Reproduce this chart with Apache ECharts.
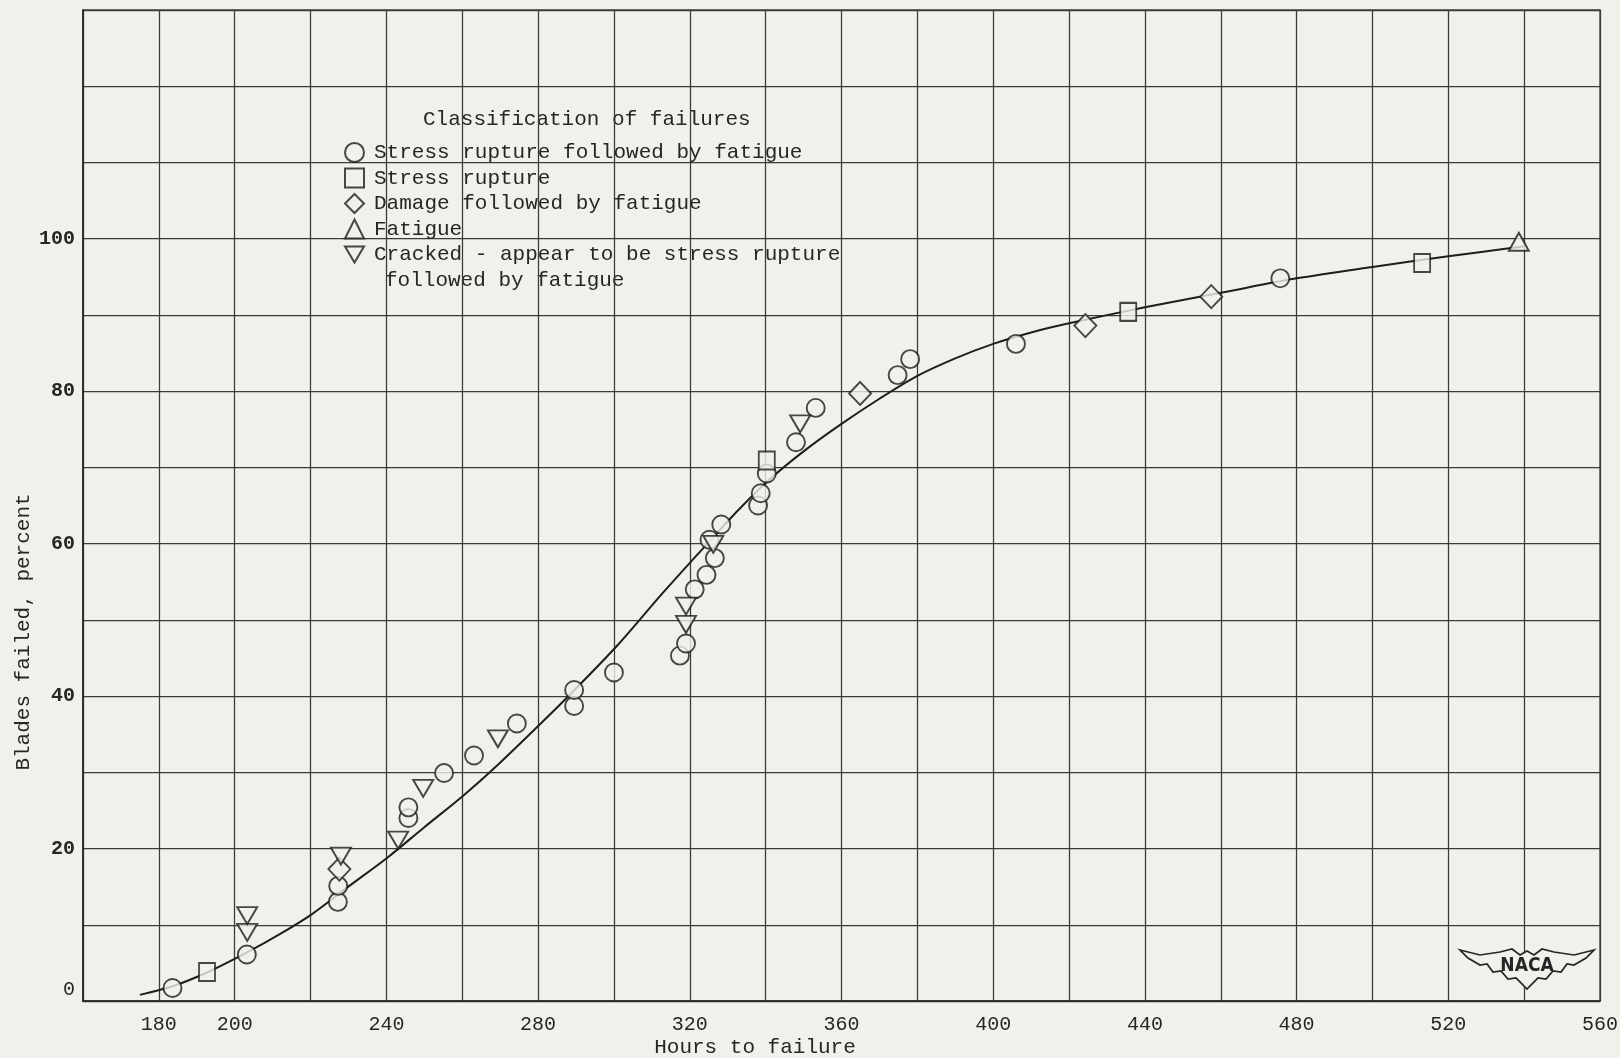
<!DOCTYPE html>
<html><head><meta charset="utf-8">
<script src="https://cdn.jsdelivr.net/npm/echarts@6/dist/echarts.min.js"></script>
<style>html,body{margin:0;padding:0;background:#f1f0eb;}#c{width:1620px;height:1058px;}</style>
</head><body><div id="c"></div>
<script>
// ---- data ----
const xTickLabels = [180, 200, 240, 280, 320, 360, 400, 440, 480, 520, 560];
const yTickLabels = [0, 20, 40, 60, 80, 100];
const legendTitle = 'Classification of failures';
const seriesNames = [
  'Stress rupture followed by fatigue',
  'Stress rupture',
  'Damage followed by fatigue',
  'Fatigue',
  'Cracked - appear to be stress rupture followed by fatigue'
];
// [hours to failure, blades failed percent]
const stressRuptureFatigue = [
  [183.6,1.7],[203.2,6.1],[227.2,13.0],[227.3,15.1],[245.8,24.0],[245.8,25.4],
  [255.2,29.9],[263.1,32.2],[274.4,36.4],[289.5,38.7],[289.5,40.8],[300.0,43.1],
  [317.4,45.3],[319.0,46.9],[321.3,54.0],[324.4,55.9],[326.6,58.1],[325.2,60.5],
  [328.3,62.5],[338.0,65.0],[338.7,66.6],[340.3,69.2],[348.0,73.3],[353.2,77.8],
  [374.8,82.1],[378.1,84.2],[406.0,86.2],[475.7,94.8]
];
const stressRupture = [[192.7,3.8],[340.3,70.9],[435.6,90.4],[513.1,96.8]];
const damageFatigue = [[227.6,17.3],[364.9,79.7],[424.3,88.6],[457.5,92.4]];
const fatigue = [[538.6,99.6]];
const cracked = [
  [203.3,9.0],[203.3,11.2],[228.0,19.0],[243.1,21.1],[249.7,27.9],[269.4,34.4],
  [319.0,49.4],[319.0,51.8],[326.2,59.9],[349.1,75.7]
];
const fairedCurve = [
  [175,0.8],[184,2.0],[193,3.8],[203,6.3],[212,8.8],[220.4,11.4],[229.7,14.9],
  [240.5,18.9],[250,22.8],[260.4,27.0],[269.2,30.9],[280.9,36.5],[290,41.0],
  [301,46.7],[313,53.6],[325,60.2],[333,64.5],[341,68.4],[350,72.1],[360,75.7],
  [370,79.0],[380,82.0],[390,84.3],[400,86.2],[410,87.7],[420,88.9],[440,91.0],
  [460,92.9],[480,94.8],[500,96.3],[520,97.7],[540,99.0]
];

// ---- styling ----
const BG = '#f1f0eb';
const INK = '#262626';
const GRIDC = '#3a3a3a';
const FONT = '"Liberation Mono", "DejaVu Sans Mono", monospace';
const markerStyle = { color: BG, borderColor: '#1c1c1c', borderWidth: 1.9 };

const chart = echarts.init(document.getElementById('c'), null, { renderer: 'canvas' });

function scatter(name, data, symbol, size) {
  return {
    name, type: 'scatter', data, symbol, symbolSize: size,
    itemStyle: markerStyle, z: 4, silent: true,
    emphasis: { disabled: true }
  };
}

const option = {
  backgroundColor: BG,
  animation: false,
  grid: {
    left: 83, right: 20, top: 10, bottom: 57,
    show: true, borderColor: GRIDC, borderWidth: 1.3, backgroundColor: 'transparent',
    containLabel: false, outerBoundsMode: 'none'
  },
  xAxis: {
    type: 'value', min: 160, max: 560, interval: 20,
    axisLine: { show: true, lineStyle: { color: INK, width: 1.6 } },
    axisTick: { show: false },
    splitLine: { show: true, lineStyle: { color: GRIDC, width: 1.25 } },
    axisLabel: {
      formatter: v => xTickLabels.indexOf(v) >= 0 ? String(v) : '',
      fontFamily: FONT, fontSize: 20, color: INK, margin: 14,
      showMinLabel: true, showMaxLabel: true
    }
  },
  yAxis: {
    type: 'value', min: 0, max: 130, interval: 10,
    axisLine: { show: true, lineStyle: { color: INK, width: 1.6 } },
    axisTick: { show: false },
    splitLine: { show: true, lineStyle: { color: GRIDC, width: 1.25 } },
    axisLabel: {
      formatter: v => {
        if (yTickLabels.indexOf(v) < 0) return '';
        return v === 0 ? '{z|0}' : '{b|' + v + '}';
      },
      margin: 8, color: INK,
      rich: {
        z: { fontFamily: FONT, fontSize: 20, color: INK, fontWeight: 'normal', padding: [0, 0, 22, 0] },
        b: { fontFamily: FONT, fontSize: 20, color: INK, fontWeight: 'bold' }
      }
    }
  },
  legend: {
    data: seriesNames,
    orient: 'vertical',
    left: 339, top: 135,
    itemWidth: 19, itemHeight: 19, itemGap: 0.5,
    selectedMode: false,
    formatter: name => name === seriesNames[4] ? 'Cracked - appear to be stress rupture' : name,
    textStyle: { fontFamily: FONT, fontSize: 21, lineHeight: 25, color: INK, padding: [0, 0, 0, 5] }
  },
  graphic: [
    { type: 'text', x: 423, y: 119, silent: true,
      style: { text: legendTitle, font: '21px ' + FONT, fill: INK, align: 'left', verticalAlign: 'middle', textAlign: 'left', textVerticalAlign: 'middle' } },
    { type: 'text', x: 385, y: 280, silent: true,
      style: { text: 'followed by fatigue', font: '21px ' + FONT, fill: INK, align: 'left', verticalAlign: 'middle', textAlign: 'left', textVerticalAlign: 'middle' } },
    { type: 'text', x: 755, y: 1047, silent: true,
      style: { text: 'Hours to failure', font: '21px ' + FONT, fill: INK, align: 'center', verticalAlign: 'middle', textAlign: 'center', textVerticalAlign: 'middle' } },
    { type: 'text', x: 23, y: 632, rotation: Math.PI / 2, silent: true,
      style: { text: 'Blades failed, percent', font: '21px ' + FONT, fill: INK, align: 'center', verticalAlign: 'middle', textAlign: 'center', textVerticalAlign: 'middle' } },
    { type: 'polygon', silent: true, z: 10,
      shape: { points: [[1460,950],[1480,955],[1500,952],[1512,949],[1520,955],[1527,951],[1534,955],[1542,949],[1554,952],[1574,955],[1594,950],[1586,958],[1574,965],[1567,964],[1561,972],[1553,971],[1546,979],[1538,978],[1527,989],[1516,978],[1508,979],[1501,971],[1493,972],[1487,964],[1480,965],[1468,958]] },
      style: { fill: BG, stroke: INK, lineWidth: 1.7 } },
    { type: 'text', x: 1527, y: 966, silent: true, z: 11,
      style: { text: 'NACA', font: 'bold 19px "Liberation Sans Narrow", "DejaVu Sans Condensed", sans-serif', fill: INK, align: 'center', verticalAlign: 'middle', textAlign: 'center', textVerticalAlign: 'middle' } }
  ],
  series: [
    { name: 'faired curve', type: 'line', data: fairedCurve, smooth: 0.3, showSymbol: false,
      lineStyle: { color: '#1e1e1e', width: 2 }, z: 3, silent: true, emphasis: { disabled: true } },
    scatter(seriesNames[0], stressRuptureFatigue, 'circle', 18),
    scatter(seriesNames[1], stressRupture, 'rect', [16, 18]),
    scatter(seriesNames[2], damageFatigue, 'diamond', [22, 23]),
    scatter(seriesNames[3], fatigue, 'triangle', [20, 18]),
    scatter(seriesNames[4], cracked, 'path://M0,0 L20,0 L10,17 Z', [20, 17])
  ]
};
chart.setOption(option);
</script>
</body></html>
